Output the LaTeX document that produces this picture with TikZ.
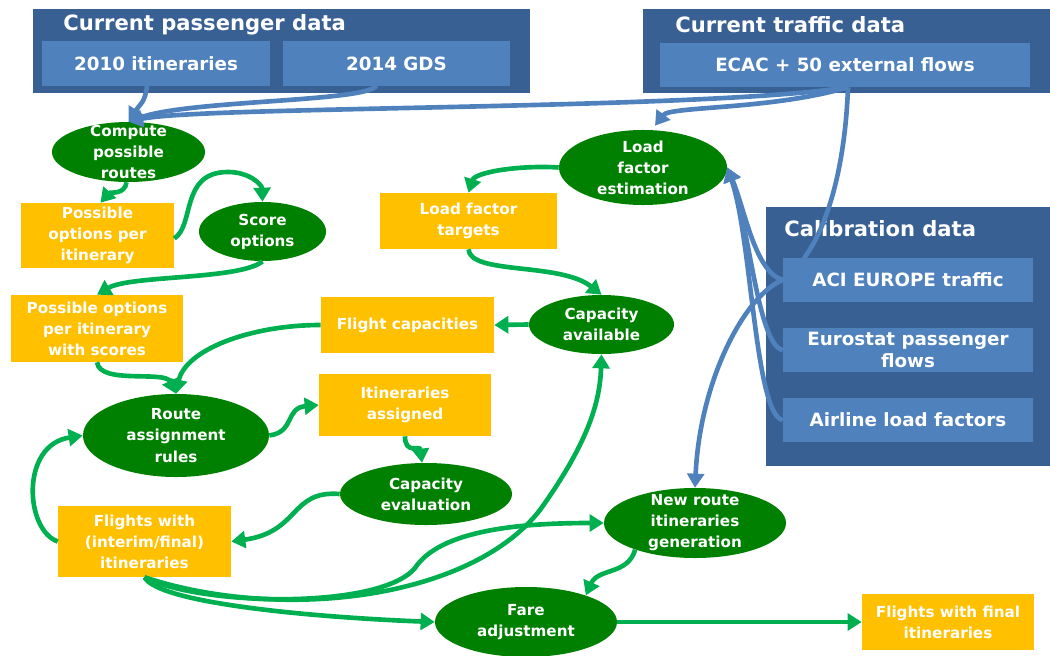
\documentclass[tikz,border=0pt]{standalone}
\usepackage{fontspec}
\setmainfont{DejaVu Sans}
\usetikzlibrary{shapes.geometric,arrows.meta,calc}

\definecolor{hdrblue}{RGB}{56,96,146}
\definecolor{subblue}{RGB}{79,129,189}
\definecolor{procgreen}{RGB}{0,128,0}
\definecolor{dataorange}{RGB}{255,192,0}
\definecolor{flowgreen}{RGB}{0,176,80}

\begin{document}
\begin{tikzpicture}[
    x=0.025cm, y=-0.025cm,
    panel/.style={fill=hdrblue, inner sep=0pt},
    paneltitle/.style={anchor=west, text=white, inner sep=0pt, font=\fontsize{15}{17}\selectfont\bfseries},
    source/.style={fill=subblue, text=white, align=center, inner sep=0pt, minimum width=#1, minimum height=1.1cm, font=\fontsize{13}{16}\selectfont\bfseries},
    proc/.style 2 args={ellipse, fill=procgreen, inner sep=0pt, minimum width=#1, minimum height=#2},
    proctxt/.style={text=white, align=center, inner sep=0pt, font=\fontsize{10.8}{15}\selectfont\bfseries},
    data/.style 2 args={fill=dataorange, text=white, align=center, inner sep=0pt, minimum width=#1, minimum height=#2, font=\fontsize{10.8}{15}\selectfont\bfseries},
    feed/.style={draw=subblue, line width=3.3pt, -{Triangle[length=10pt,width=12pt]}},
    flow/.style={draw=flowgreen, line width=3.3pt, -{Triangle[length=10pt,width=12pt]}},
]
\useasboundingbox (0,0) rectangle (1050,656);

% Input data panels
\node[panel, minimum width=12.425cm, minimum height=2.1cm] (passpanel) at (281.5,51) {};
\node[paneltitle] (passtitle) at (63,25) {Current passenger data};
\node[source=5.7cm] (it2010) at (156,63.5) {2010 itineraries};
\node[source=5.675cm] (gds) at (396.5,63.5) {2014 GDS};

\node[panel, minimum width=10.175cm, minimum height=2.1cm] (trafpanel) at (846.5,51) {};
\node[paneltitle] (traftitle) at (675,25) {Current traffic data};
\node[source=9.25cm] (ecac) at (845,65) {ECAC + 50 external flows};

\node[panel, minimum width=7.1cm, minimum height=6.475cm] (calpanel) at (908,336.5) {};
\node[paneltitle] (caltitle) at (784,229) {Calibration data};
\node[source=6.25cm] (aci) at (908,280) {ACI EUROPE traffic};
\node[source=6.25cm] (eurostat) at (908,350) {Eurostat passenger\\flows};
\node[source=6.25cm] (airline) at (908,420) {Airline load factors};

% Processes
\node[proc={3.825cm}{1.5cm}, label={[proctxt]center:Compute\\possible\\routes}] (compute) at (128.5,152) {};
\node[proc={3.175cm}{1.475cm}, label={[proctxt]center:Score\\options}] (score) at (262.5,231.5) {};
\node[proc={4.2cm}{1.875cm}, label={[proctxt]center:Load\\factor\\estimation}] (loadest) at (643,167.5) {};
\node[proc={3.625cm}{1.475cm}, label={[proctxt]center:Capacity\\available}] (capavail) at (601.5,324.5) {};
\node[proc={4.65cm}{2.075cm}, label={[proctxt]center:Route\\assignment\\rules}] (routeassign) at (176,435.5) {};
\node[proc={4.3cm}{1.55cm}, label={[proctxt]center:Capacity\\evaluation}] (capeval) at (426,494) {};
\node[proc={4.55cm}{1.75cm}, label={[proctxt]center:New route\\itineraries\\generation}] (newroute) at (695,523) {};
\node[proc={4.55cm}{1.75cm}, label={[proctxt]center:Fare\\adjustment}] (fare) at (526,622) {};

% Intermediate data
\node[data={3.825cm}{1.625cm}] (optper) at (97.5,235.5) {Possible\\options per\\itinerary};
\node[data={4.425cm}{1.4cm}] (lftarget) at (468.5,221) {Load factor\\targets};
\node[data={4.3cm}{1.675cm}] (optscores) at (97,328.5) {Possible options\\per itinerary\\with scores};
\node[data={4.325cm}{1.4cm}] (flightcap) at (407.5,325) {Flight capacities};
\node[data={4.3cm}{1.55cm}] (itinassign) at (405,405) {Itineraries\\assigned};
\node[data={4.325cm}{1.775cm}] (interim) at (144.5,541.5) {Flights with\\(interim/final)\\itineraries};
\node[data={4.3cm}{1.4cm}] (final) at (948,622) {Flights with final\\itineraries};

% Data feeds
\draw[feed] ($(it2010.south)+(-9,0)$) .. controls (145,103) and (140,104) .. (compute.north);
\draw[feed] ($(gds.south)+(-20,0)$) .. controls (365,102) and (190,100) .. (compute.north);
\draw[feed] ($(ecac.south)+(3,0)$) .. controls (700,110) and (200,106) .. (compute.north);
\draw[feed] ($(ecac.south)+(3,0)$) .. controls (770,110) and (670,106) .. ($(loadest.north)+(12,-4)$);
\draw[feed] ($(ecac.south)+(3,0)$) .. controls (845,170) and (825,250) .. (aci.west)
    .. controls (745,295) and (700,380) .. (newroute.north);
\draw[feed] (aci.west) .. controls (755,272) and (745,210) .. (loadest.east);
\draw[feed] (eurostat.west) .. controls (758,345) and (750,230) .. (loadest.east);
\draw[feed] (airline.west) .. controls (755,415) and (752,240) .. (loadest.east);

% Process flow
\draw[flow] ($(compute.south)+(-2,0)$) .. controls (125,195) and (110,192) .. ($(optper.north)+(3,0)$);
\draw[flow] ($(optper.east)+(0,3)$) .. controls (195,225) and (180,172) .. (228,172)
    .. controls (250,172) and (262,185) .. (score.north);
\draw[flow] (score.south) .. controls (240,280) and (130,275) .. (optscores.north);
\draw[flow] (loadest.west) .. controls (520,165) and (475,172) .. (lftarget.north);
\draw[flow] (lftarget.south) .. controls (470,275) and (560,262) .. (capavail.north);
\draw[flow] (capavail.west) -- (flightcap.east);
\draw[flow] (flightcap.west) .. controls (250,325) and (185,350) .. (routeassign.north);
\draw[flow] (optscores.south) .. controls (100,385) and (165,370) .. (routeassign.north);
\draw[flow] (routeassign.east) .. controls (295,432) and (285,408) .. (itinassign.west);
\draw[flow] (itinassign.south) .. controls (405,455) and (420,445) .. ($(capeval.north)+(-4,0)$);
\draw[flow] (capeval.west) .. controls (290,490) and (300,532) .. (interim.east);
\draw[flow] (interim.west) .. controls (25,530) and (20,445) .. (routeassign.west);
\draw[flow] (interim.south) .. controls (160,605) and (330,618) .. (fare.west);
\draw[flow] (interim.south) .. controls (200,606) and (380,610) .. (415,568)
    .. controls (440,530) and (520,523) .. (newroute.west);
\draw[flow] (interim.south) .. controls (280,622) and (470,600) .. (540,510)
    .. controls (590,440) and (600,400) .. (capavail.south);
\draw[flow] (newroute.204) .. controls (628,575) and (598,568) .. (fare.24);
\draw[flow] (fare.east) -- (final.west);

\end{tikzpicture}
\end{document}
